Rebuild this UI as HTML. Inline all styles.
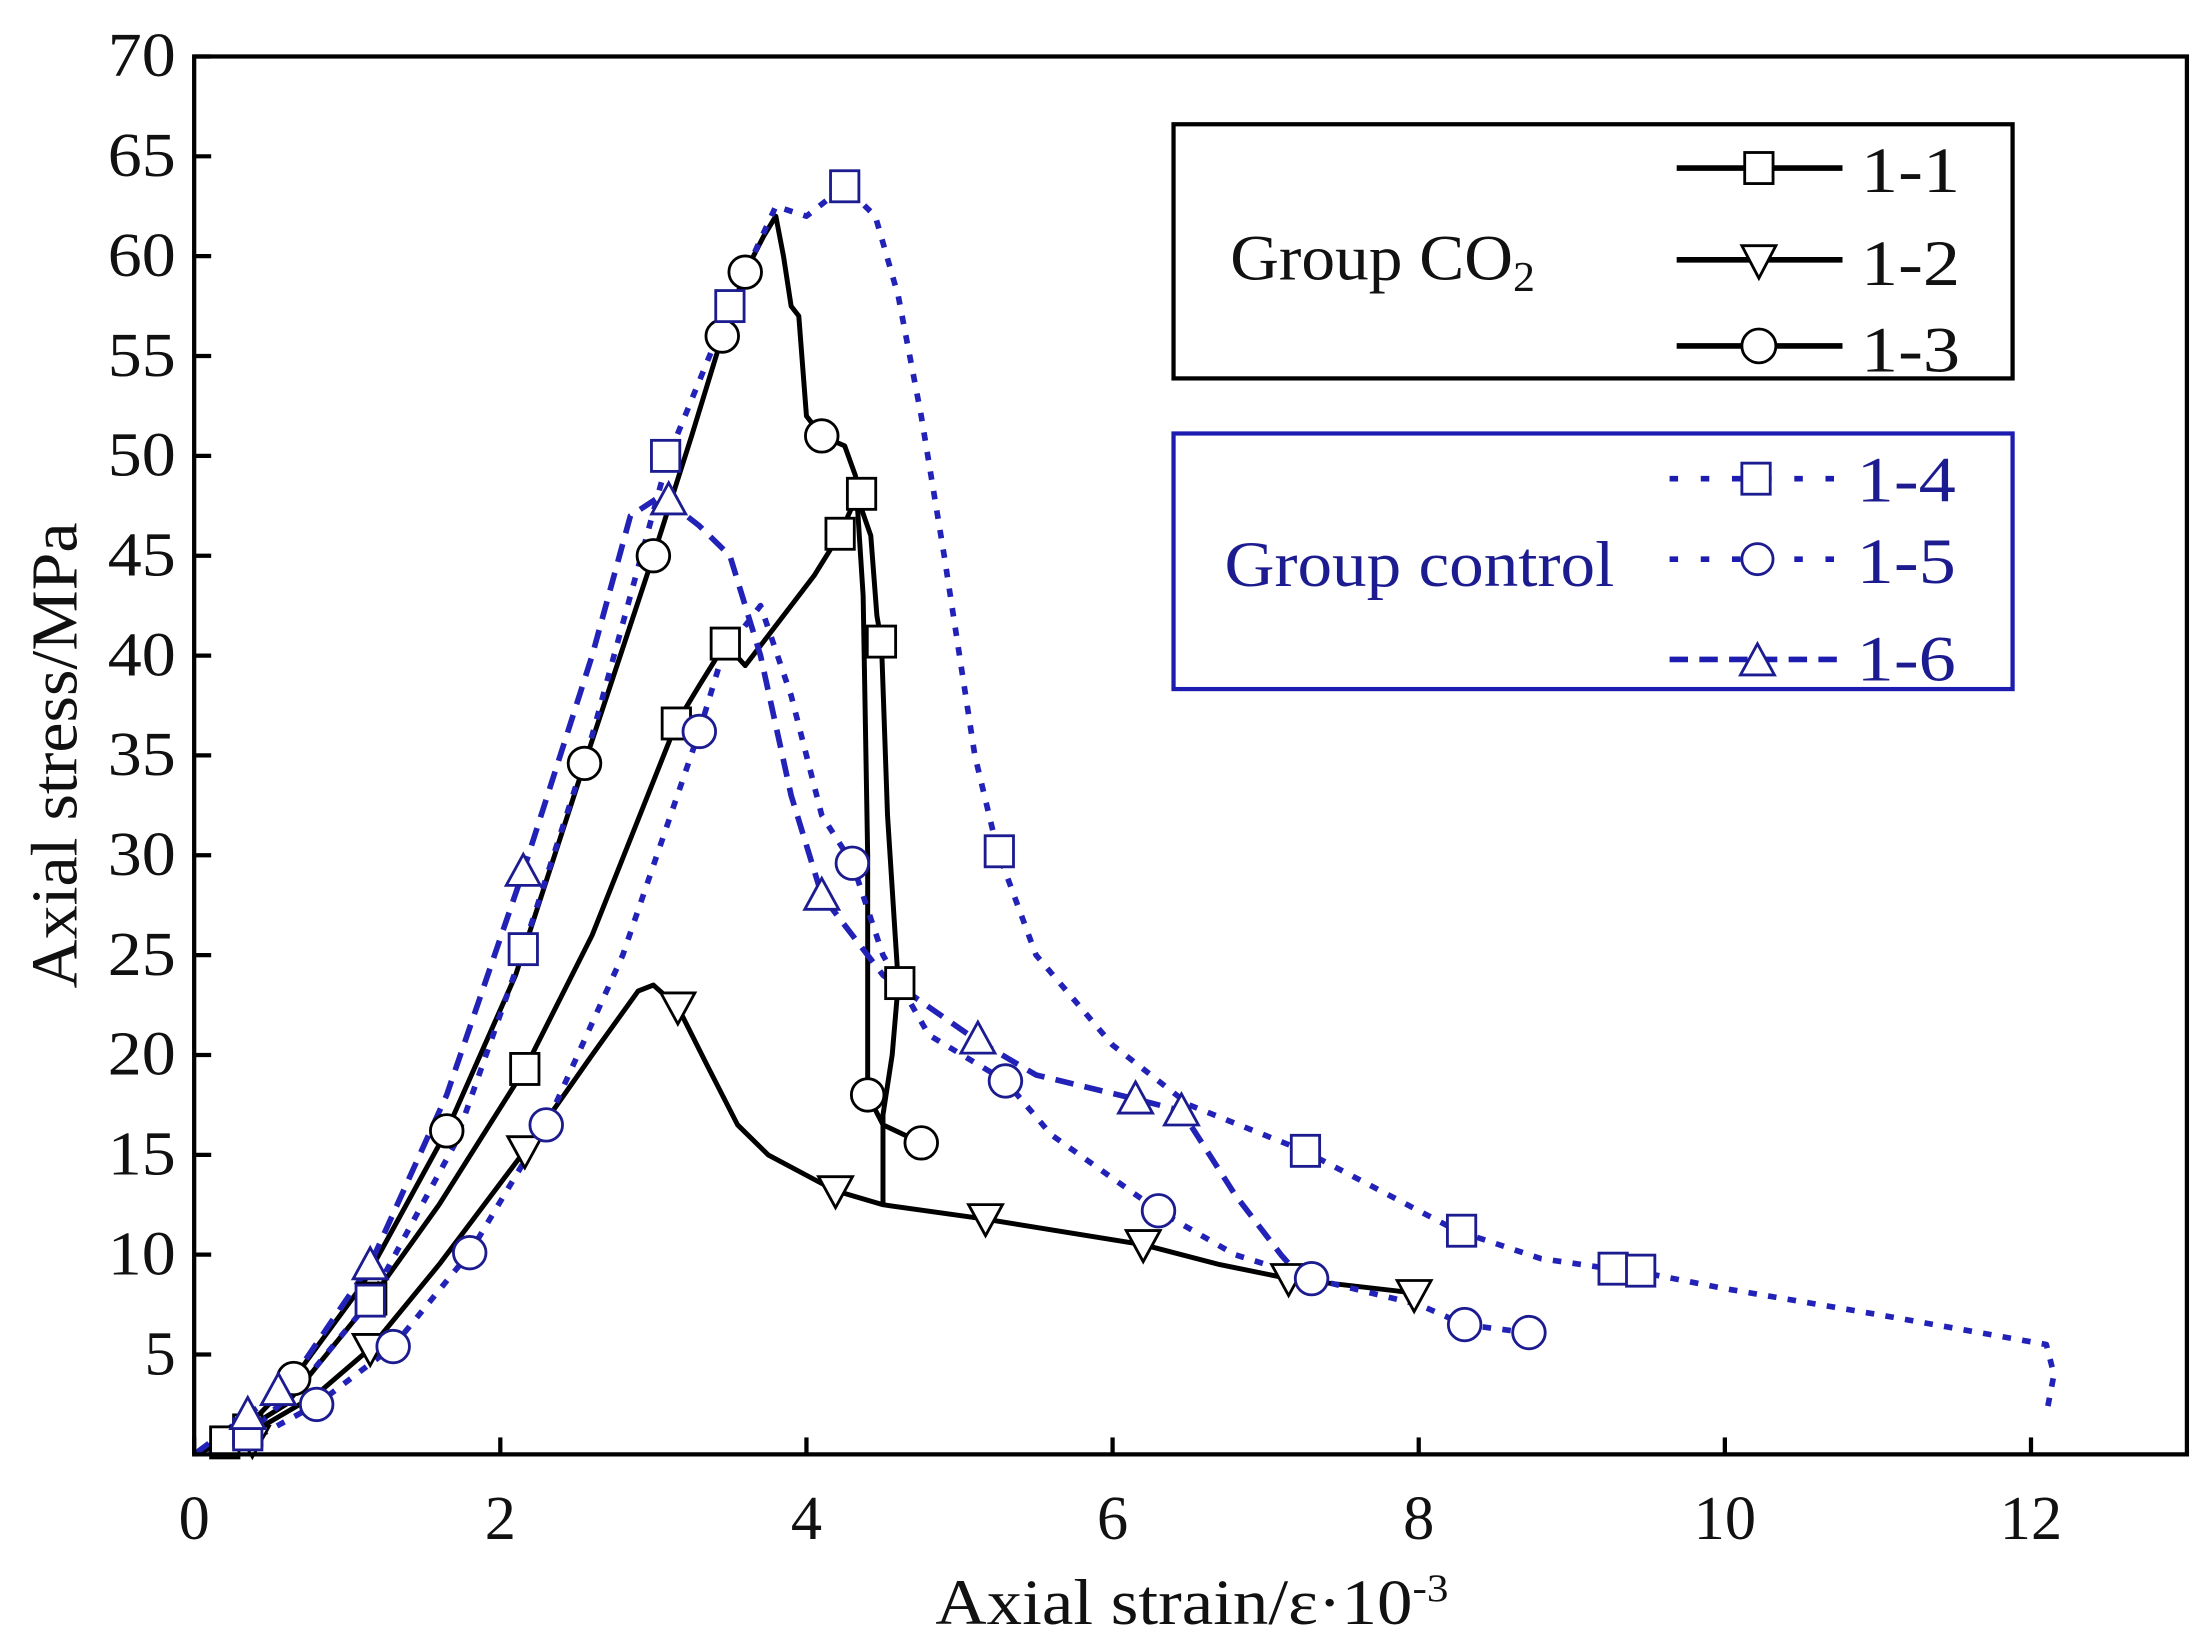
<!DOCTYPE html>
<html><head><meta charset="utf-8"><style>
html,body{margin:0;padding:0;background:#fff;}
svg{display:block;}
</style></head><body>
<svg id="c" width="2211" height="1645" viewBox="0 0 1560 1165" preserveAspectRatio="none" xmlns="http://www.w3.org/2000/svg" font-family="'Liberation Serif', serif">
<rect x="0" y="0" width="1560" height="1165" fill="#fff"/>
<g id="lines"></g>
<g id="marks"></g>
<rect x="137" y="40" width="1406" height="990" fill="none" stroke="#000" stroke-width="3"/>
<g id="ticks" stroke="#000" stroke-width="3"></g>
<g id="labels" font-size="44" fill="#111"></g>
<text x="660" y="1150" font-size="46" fill="#111" textLength="362" lengthAdjust="spacingAndGlyphs">Axial strain/ε·10<tspan font-size="28" dy="-16">-3</tspan></text>
<text transform="translate(54,535) rotate(-90)" font-size="46" text-anchor="middle" fill="#111" textLength="330" lengthAdjust="spacingAndGlyphs">Axial stress/MPa</text>
<!-- legend 1 -->
<rect x="828" y="88" width="592" height="180" fill="#fff" stroke="#000" stroke-width="3"/>
<text x="868" y="198" font-size="46" fill="#111" textLength="215" lengthAdjust="spacingAndGlyphs">Group CO<tspan font-size="30" dy="8">2</tspan></text>
<g stroke="#000" stroke-width="4">
<line x1="1183" y1="119" x2="1300" y2="119"/><line x1="1183" y1="184" x2="1300" y2="184"/><line x1="1183" y1="245" x2="1300" y2="245"/>
</g>
<rect x="1231" y="108" width="20" height="22" fill="#fff" stroke="#000" stroke-width="2"/>
<polygon points="1229,174 1253,174 1241,197" fill="#fff" stroke="#000" stroke-width="2"/>
<circle cx="1241" cy="245" r="12" fill="#fff" stroke="#000" stroke-width="2"/>
<g font-size="46" fill="#111"><text x="1313" y="136" textLength="70" lengthAdjust="spacingAndGlyphs">1-1</text><text x="1313" y="202" textLength="70" lengthAdjust="spacingAndGlyphs">1-2</text><text x="1313" y="263" textLength="70" lengthAdjust="spacingAndGlyphs">1-3</text></g>
<!-- legend 2 -->
<rect x="828" y="307" width="592" height="181" fill="#fff" stroke="#1c1cb0" stroke-width="3"/>
<text x="864" y="415" font-size="46" fill="#1c1c90" textLength="275" lengthAdjust="spacingAndGlyphs">Group control</text>
<g stroke="#1c1cb0" stroke-width="4">
<line x1="1178" y1="339" x2="1296" y2="339" stroke-dasharray="6 16"/>
<line x1="1178" y1="396" x2="1296" y2="396" stroke-dasharray="6 16"/>
<line x1="1178" y1="467" x2="1296" y2="467" stroke-dasharray="13 8"/>
</g>
<rect x="1229" y="328" width="20" height="22" fill="#fff" stroke="#1c1c90" stroke-width="2"/>
<circle cx="1240" cy="396" r="11" fill="#fff" stroke="#1c1c90" stroke-width="2"/>
<polygon points="1228,478 1252,478 1240,456" fill="#fff" stroke="#1c1c90" stroke-width="2"/>
<g font-size="46" fill="#1c1c90"><text x="1310" y="355" textLength="70" lengthAdjust="spacingAndGlyphs">1-4</text><text x="1310" y="413" textLength="70" lengthAdjust="spacingAndGlyphs">1-5</text><text x="1310" y="482" textLength="70" lengthAdjust="spacingAndGlyphs">1-6</text></g>
</svg>
<script>
var NS="http://www.w3.org/2000/svg";
function px(x){return 137+108*x;} function py(y){return 1030-14.143*y;}
function el(t,a,p){var e=document.createElementNS(NS,t);for(var k in a)e.setAttribute(k,a[k]);p.appendChild(e);return e;}
var L=document.getElementById("lines"),M=document.getElementById("marks"),T=document.getElementById("ticks"),G=document.getElementById("labels");
for(var i=0;i<=12;i+=2){el("line",{x1:px(i),y1:1030,x2:px(i),y2:1018},T);var t=el("text",{x:px(i),y:1090,"text-anchor":"middle",textLength:(i>=10?44:22),lengthAdjust:"spacingAndGlyphs"},G);t.textContent=i;}
for(var j=5;j<=70;j+=5){el("line",{x1:137,y1:py(j),x2:149,y2:py(j)},T);var t=el("text",{x:124,y:py(j)+14,"text-anchor":"end",textLength:(j>=10?48:22),lengthAdjust:"spacingAndGlyphs"},G);t.textContent=j;}
var BK="#000",BL="#2222b8",BM="#1c1c90";
var S=[
 {c:BK,d:"",w:3.5,m:"sq",pts:[[0,0],[0.2,0.6],[0.6,2.5],[1.16,7.8],[1.6,12.5],[2.16,19.3],[2.6,26],[3.15,36.6],[3.3,38.5],[3.47,40.6],[3.6,39.5],[3.8,41.5],[4.05,44],[4.22,46.1],[4.33,48],[4.42,46],[4.46,42],[4.49,40.7],[4.53,32],[4.58,26],[4.6,23.6],[4.56,20],[4.5,17],[4.5,12.5]],mk:[[0.2,0.6],[0.35,1.2],[1.16,7.8],[2.16,19.3],[3.15,36.6],[3.47,40.6],[4.22,46.1],[4.36,48.1],[4.49,40.7],[4.61,23.6]]},
 {c:BK,d:"",w:3.5,m:"tv",pts:[[0,0],[0.4,1.2],[0.8,3],[1.15,5.3],[1.6,9.5],[2.16,15.2],[2.6,20],[2.9,23.2],[3.0,23.5],[3.16,22.4],[3.35,19.5],[3.55,16.5],[3.75,15],[4.19,13.2],[4.5,12.5],[5.15,11.8],[6.2,10.5],[6.7,9.5],[7.15,8.8],[7.95,8.1]],mk:[[0.38,0.7],[1.15,5.3],[2.16,15.2],[3.16,22.4],[4.19,13.2],[5.17,11.8],[6.2,10.5],[7.15,8.8],[7.97,8.0]]},
 {c:BK,d:"",w:3.5,m:"ci",pts:[[0,0],[0.4,1.8],[0.65,3.8],[1.1,8.5],[1.65,16.2],[2.1,24],[2.55,34.6],[3.0,45],[3.25,51],[3.45,56],[3.6,59.2],[3.72,61],[3.8,62],[3.85,60],[3.9,57.5],[3.95,57],[4.0,52],[4.1,51],[4.25,50.5],[4.32,49],[4.37,43],[4.4,30],[4.4,18],[4.5,16.5],[4.75,15.6]],mk:[[0.65,3.8],[1.65,16.2],[2.55,34.6],[3.0,45],[3.45,56],[3.6,59.2],[4.1,51],[4.4,18],[4.75,15.6]]},
 {c:BL,d:"6 8",w:4,m:"sq",pts:[[0.1,0],[0.35,1],[0.7,3.5],[1.15,7.7],[1.7,15.5],[2.15,25.3],[2.6,36],[3.1,50],[3.5,57.5],[3.8,62.5],[4.0,62],[4.25,63.5],[4.45,62],[4.6,58],[4.75,52],[4.9,45],[5.1,35],[5.25,30.2],[5.5,25],[6.0,20.5],[6.5,17.5],[7.25,15.2],[7.8,13],[8.25,11.2],[8.8,9.8],[9.25,9.3],[9.4,9.2],[10,8.3],[11,7],[12.1,5.5],[12.15,4],[12.1,2]],mk:[[0.35,1],[1.15,7.7],[2.15,25.3],[3.08,50],[3.5,57.5],[4.25,63.5],[5.26,30.2],[7.26,15.2],[8.28,11.2],[9.27,9.3],[9.45,9.2]]},
 {c:BL,d:"6 8",w:4,m:"ci",pts:[[0.2,0],[0.8,2.5],[1.3,5.4],[1.8,10.1],[2.3,16.5],[2.8,25],[3.3,36.2],[3.45,40],[3.7,42.5],[3.9,38],[4.1,32],[4.3,29.6],[4.5,25],[4.8,21],[5.3,18.7],[5.6,16],[6.3,12.2],[6.8,10],[7.3,8.8],[8.0,7.5],[8.3,6.5],[8.7,6.1]],mk:[[0.8,2.5],[1.3,5.4],[1.8,10.1],[2.3,16.5],[3.3,36.2],[4.3,29.6],[5.3,18.7],[6.3,12.2],[7.3,8.8],[8.3,6.5],[8.72,6.1]]},
 {c:BL,d:"13 8",w:4,m:"tu",pts:[[0,0],[0.35,2],[0.6,3.3],[1.15,9.5],[1.65,18],[2.15,29.2],[2.6,40],[2.85,47],[3.05,48],[3.3,46.5],[3.5,45],[3.7,40],[3.9,33],[4.1,28],[4.5,24],[5.1,20.8],[5.5,19],[6.15,17.8],[6.45,17.2],[6.8,13],[7.1,10],[7.25,8.7]],mk:[[0.35,2],[0.55,3.2],[1.15,9.5],[2.15,29.2],[3.1,47.8],[4.1,28],[5.12,20.8],[6.15,17.8],[6.45,17.2]]}
];
S.forEach(function(s){
 var d=s.pts.map(function(p,i){return (i?"L":"M")+px(p[0]).toFixed(1)+" "+py(p[1]).toFixed(1);}).join(" ");
 var a={d:d,fill:"none",stroke:s.c,"stroke-width":s.w,"stroke-linejoin":"round"}; if(s.d)a["stroke-dasharray"]=s.d;
 el("path",a,L);
});
S.forEach(function(s){
 var mc=s.c==BK?BK:BM;
 s.mk.forEach(function(p){var x=px(p[0]),y=py(p[1]);var a={fill:"#fff",stroke:mc,"stroke-width":2};
  if(s.m=="sq"){a.x=x-10;a.y=y-11;a.width=20;a.height=22;el("rect",a,M);}
  else if(s.m=="ci"){a.cx=x;a.cy=y;a.r=11.5;el("circle",a,M);}
  else if(s.m=="tv"){a.points=(x-12)+","+(y-10)+" "+(x+12)+","+(y-10)+" "+x+","+(y+12);el("polygon",a,M);}
  else {a.points=(x-12)+","+(y+10)+" "+(x+12)+","+(y+10)+" "+x+","+(y-12);el("polygon",a,M);}
 });
});
</script>
</body></html>
